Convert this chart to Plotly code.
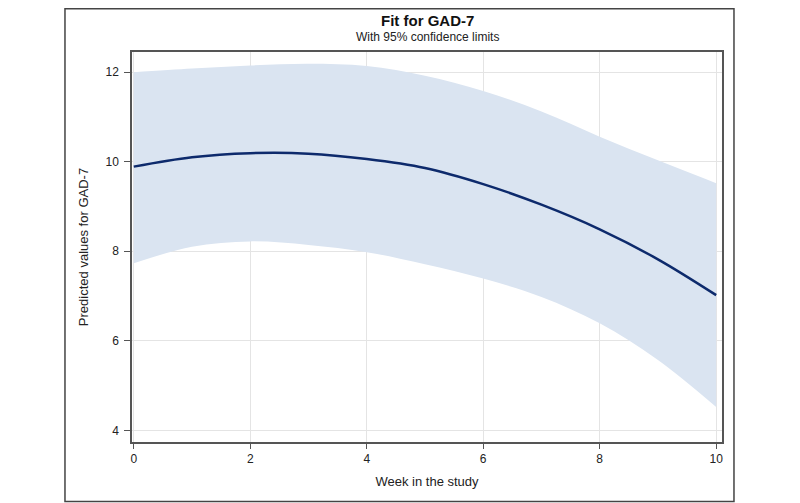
import plotly.graph_objects as go

week = [0, 1, 2, 3, 4, 5, 6, 7, 8, 9, 10]
predicted = [9.89, 10.10, 10.19, 10.18, 10.06, 9.86, 9.50, 9.04, 8.49, 7.82, 7.02]
upper_cl = [12.00, 12.08, 12.15, 12.19, 12.14, 11.92, 11.58, 11.12, 10.56, 10.03, 9.52]
lower_cl = [7.73, 8.10, 8.22, 8.14, 7.98, 7.71, 7.39, 6.98, 6.39, 5.57, 4.52]

x_ticks = [0, 2, 4, 6, 8, 10]
y_ticks = [4, 6, 8, 10, 12]

band_color = "#dae4f1"
line_color = "#0d2a6c"
grid_color = "#e4e4e4"
frame_color = "#555555"
font_family = "Liberation Sans, Arial, sans-serif"

fig = go.Figure()
fig.add_trace(go.Scatter(x=week, y=lower_cl, mode="lines", line=dict(width=0, shape="spline"),
                         hoverinfo="skip", showlegend=False))
fig.add_trace(go.Scatter(x=week, y=upper_cl, mode="lines", line=dict(width=0, shape="spline"),
                         fill="tonexty", fillcolor=band_color, hoverinfo="skip", showlegend=False))
fig.add_trace(go.Scatter(x=week, y=predicted, mode="lines",
                         line=dict(color=line_color, width=2.5, shape="spline"), showlegend=False))

# page body adds an 8px offset, so the figure is 8px smaller on each axis
fig.update_layout(
    width=792, height=495,
    margin=dict(l=124, r=78, t=44, b=61, autoexpand=False),
    paper_bgcolor="white", plot_bgcolor="white",
    font=dict(family=font_family, size=12, color="#222222"),
    annotations=[
        dict(text="<b>Fit for GAD-7</b>", xref="paper", yref="paper", x=0.5, y=1.0 + (52 - 20.5) / 390,
             xanchor="center", yanchor="middle", showarrow=False,
             font=dict(size=15, color="#111111", family=font_family)),
        dict(text="With 95% confidence limits", xref="paper", yref="paper", x=0.5, y=1.0 + (52 - 37) / 390,
             xanchor="center", yanchor="middle", showarrow=False,
             font=dict(size=12, color="#222222", family=font_family)),
    ],
    shapes=[dict(type="rect", xref="paper", yref="paper",
                 x0=-0.1136, x1=1.0203, y0=-0.1526, y1=1.0 + 43.2 / 390,
                 line=dict(color="#444444", width=1.5), fillcolor="rgba(0,0,0,0)", layer="below")],
)

fig.update_xaxes(
    range=[-0.03, 10.1], tickvals=x_ticks, ticktext=[str(v) for v in x_ticks],
    showgrid=True, gridcolor=grid_color, gridwidth=1, zeroline=False,
    showline=True, linecolor=frame_color, linewidth=1.5, mirror=True,
    ticks="outside", ticklen=5, tickcolor=frame_color, automargin=False,
    tickfont=dict(size=12, color="#222222"),
    title=dict(text="Week in the study", font=dict(size=13, color="#222222"), standoff=12),
)
fig.update_yaxes(
    range=[3.74, 12.45], tickvals=y_ticks, ticktext=[str(v) for v in y_ticks],
    showgrid=True, gridcolor=grid_color, gridwidth=1, zeroline=False,
    showline=True, linecolor=frame_color, linewidth=1.5, mirror=True,
    ticks="outside", ticklen=6, tickcolor=frame_color, automargin=False,
    ticklabelstandoff=3,
    tickfont=dict(size=12, color="#222222"),
    title=dict(text="Predicted values for GAD-7", font=dict(size=13, color="#222222"), standoff=14),
)

fig.write_html("out.html")
